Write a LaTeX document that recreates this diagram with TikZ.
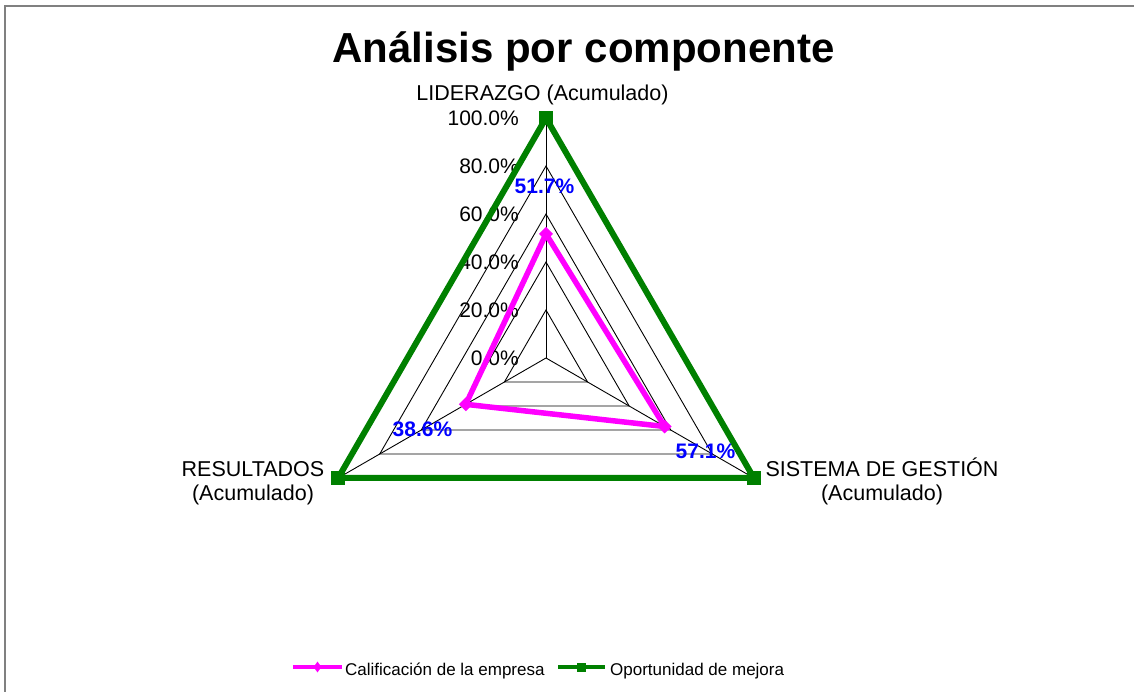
\documentclass[tikz,border=0pt]{standalone}
\usepackage{fontspec}
\setmainfont{Liberation Sans}
\usepackage{tikz}
\usetikzlibrary{shapes.geometric}
\definecolor{verde}{RGB}{0,128,0}
\definecolor{rosa}{RGB}{255,0,255}
\definecolor{azuldato}{RGB}{0,0,255}

\begin{document}
\begin{tikzpicture}[x=1pt, y=1pt,
    rejilla/.style = {draw=black, line width=0.9pt},
    empresa/.style = {draw=rosa, line width=5.5pt, line join=miter},
    mejora/.style = {draw=verde, line width=6pt, line join=miter},
    rombo/.style = {diamond, fill=rosa, minimum size=14pt, inner sep=0pt},
    cuadro/.style = {rectangle, fill=verde, minimum size=14pt, inner sep=0pt},
    eje/.style = {font=\fontsize{21}{24}\selectfont, anchor=east, inner sep=0pt},
    dato/.style = {font=\bfseries\fontsize{21}{24}\selectfont, text=azuldato,
      inner sep=0pt},
    cat/.style = {font=\fontsize{21.5}{24}\selectfont, align=center,
      inner sep=0pt, anchor=base},
    leyenda/.style = {font=\fontsize{17}{20}\selectfont, inner sep=0pt,
      anchor=base west}]
  \useasboundingbox (-546,-334) rectangle (588,358);
  \draw[gray, line width=2pt] (-540.5,-334) -- (-540.5,351.5) -- (588,351.5);
  % titulo
  \node[font=\bfseries\fontsize{42}{48}\selectfont, anchor=base] (titulo)
  at (37.5,295) {Análisis por componente};
  % ejes y rejilla
  \coordinate (centro) at (0,0);
  \coordinate (lid) at (90:240);
  \coordinate (res) at (210:240);
  \coordinate (sis) at (330:240);
  \foreach \r in {0, 20, ..., 100}
  \node[eje] (t\r) at (-27, 2.4*\r) {\r.0\%};
  \foreach \r in {20, 40, ..., 100}
  \draw[rejilla] (90:2.4*\r) -- (210:2.4*\r) -- (330:2.4*\r) -- cycle;
  \foreach \a in {lid, res, sis} \draw[rejilla] (centro) -- (\a);
  % categorias
  \node[cat] (cat1) at (-3.5,257) {LIDERAZGO (Acumulado)};
  \node[cat] (cat2) at (-293,-143) {RESULTADOS\\(Acumulado)};
  \node[cat] (cat3) at (336,-143) {SISTEMA DE GESTIÓN\\(Acumulado)};
  % oportunidad de mejora
  \draw[mejora] (lid) -- (res) -- (sis) -- cycle;
  \foreach \a in {lid, res, sis} \node[cuadro] (m\a) at (\a) {};
  % calificacion de la empresa
  \coordinate (clid) at (90:2.4*51.7);
  \coordinate (cres) at (210:2.4*38.6);
  \coordinate (csis) at (330:2.4*57.1);
  \draw[empresa] (clid) -- (cres) -- (csis) -- cycle;
  \foreach \a in {clid, cres, csis} \node[rombo] (r\a) at (\a) {};
  \node[dato] (vlid) at (-1.5,171.5) {51.7\%};
  \node[dato] (vres) at (-123.5,-71.5) {38.6\%};
  \node[dato] (vsis) at (159.5,-93) {57.1\%};
  % leyenda
  \coordinate (l1a) at (-253,-309); \coordinate (l1b) at (-204,-309);
  \coordinate (l2a) at (12,-309); \coordinate (l2b) at (59,-309);
  \draw[empresa, line width=4pt] (l1a) -- (l1b);
  \node[rombo, minimum width=8pt, minimum height=11pt] (lr) at (-228.5,-309) {};
  \draw[mejora, line width=4pt] (l2a) -- (l2b);
  \node[cuadro, minimum size=9pt] (lc) at (35.5,-309) {};
  \node[leyenda] (le1) at (-201,-317) {Calificación de la empresa};
  \node[leyenda] (le2) at (64,-317) {Oportunidad de mejora};
\end{tikzpicture}
\end{document}
